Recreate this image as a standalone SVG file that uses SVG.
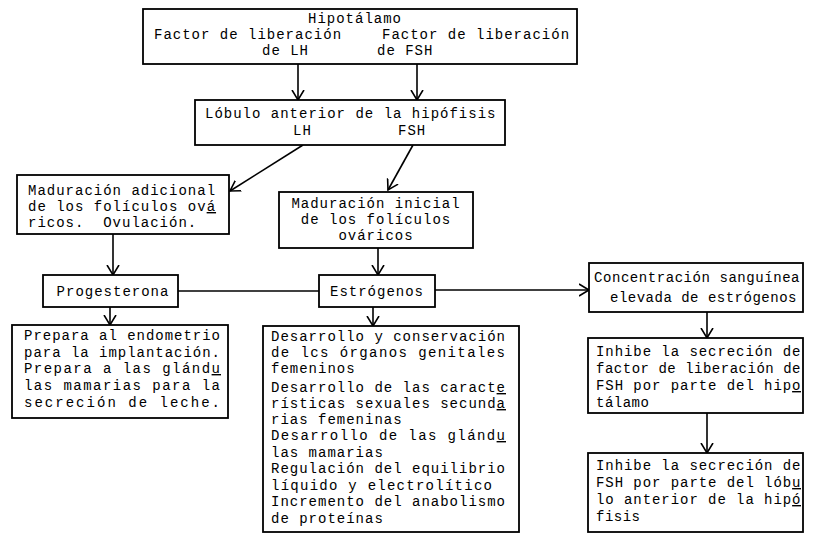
<svg xmlns="http://www.w3.org/2000/svg" width="818" height="535" viewBox="0 0 818 535">
<defs>
<marker id="ah" markerUnits="userSpaceOnUse" markerWidth="14" markerHeight="14" refX="10" refY="6" orient="auto" viewBox="0 0 14 12">
<path d="M0,0 L10,6 L0,12" fill="none" stroke="#000" stroke-width="1.6"/>
</marker>
<style>
rect{fill:#fff;stroke:#000;stroke-width:1.8}
text{font-family:"Liberation Mono","DejaVu Sans Mono",monospace;font-size:14px;letter-spacing:1px;fill:#000}
.r{letter-spacing:0.5px}
.m{text-anchor:middle}
.u{text-decoration:underline}
#connectors line{stroke:#000;stroke-width:1.6;fill:none}
</style>
</defs>
<rect x="0" y="0" width="818" height="535" style="fill:#fff;stroke:none"/>
<g id="connectors">
<line x1="298" y1="64" x2="298" y2="100" marker-end="url(#ah)"/>
<line x1="417" y1="64" x2="417" y2="100" marker-end="url(#ah)"/>
<line x1="303" y1="145" x2="230" y2="191" marker-end="url(#ah)"/>
<line x1="413" y1="145" x2="388" y2="190" marker-end="url(#ah)"/>
<line x1="113" y1="234" x2="113" y2="275" marker-end="url(#ah)"/>
<line x1="378" y1="248" x2="378" y2="275" marker-end="url(#ah)"/>
<line x1="178" y1="291" x2="319" y2="291"/>
<line x1="435" y1="290" x2="589" y2="290" marker-end="url(#ah)"/>
<line x1="110" y1="307" x2="110" y2="325" marker-end="url(#ah)"/>
<line x1="373" y1="307" x2="373" y2="326" marker-end="url(#ah)"/>
<line x1="707" y1="312" x2="707" y2="338" marker-end="url(#ah)"/>
<line x1="707" y1="413" x2="707" y2="453" marker-end="url(#ah)"/>
</g>
<g id="hipotalamo">
<rect x="143" y="9" width="434" height="55"/>
<text x="355" y="23" class="m">Hipotálamo</text>
<text x="154" y="39">Factor de liberación</text>
<text x="382" y="39">Factor de liberación</text>
<text x="262" y="55">de LH</text>
<text x="377" y="55">de FSH</text>
</g>
<g id="lobulo">
<rect x="195" y="100" width="310" height="45"/>
<text x="205" y="118">Lóbulo anterior de la hipófisis</text>
<text x="293" y="135">LH</text>
<text x="398" y="135">FSH</text>
</g>
<g id="maduracion-adicional">
<rect x="17" y="175" width="212" height="59"/>
<text x="28" y="195">Maduración adicional</text>
<text x="28" y="211">de los folículos ov<tspan class="u">á</tspan></text>
<text x="28" y="227" xml:space="preserve">ricos.  Ovulación.</text>
</g>
<g id="maduracion-inicial">
<rect x="279" y="192" width="194" height="56"/>
<text x="376" y="208" class="m">Maduración inicial</text>
<text x="376" y="224" class="m">de los folículos</text>
<text x="376" y="240" class="m">ováricos</text>
</g>
<g id="progesterona">
<rect x="43" y="275" width="135" height="32"/>
<text x="113" y="296" class="m">Progesterona</text>
</g>
<g id="estrogenos">
<rect x="319" y="275" width="116" height="32"/>
<text x="377" y="296" class="m">Estrógenos</text>
</g>
<g id="concentracion">
<rect x="589" y="263" width="214" height="49"/>
<text x="594" y="282" class="r" textLength="206" lengthAdjust="spacing">Concentración sanguínea</text>
<text x="610" y="302" class="r">elevada de estrógenos</text>
</g>
<g id="prepara">
<rect x="12" y="325" width="216" height="93"/>
<text x="24" y="340" textLength="197" lengthAdjust="spacing">Prepara al endometrio</text>
<text x="24" y="357" textLength="197" lengthAdjust="spacing">para la implantación.</text>
<text x="24" y="373" textLength="197" lengthAdjust="spacing">Prepara a las glánd<tspan class="u">u</tspan></text>
<text x="24" y="390" textLength="197" lengthAdjust="spacing">las mamarias para la</text>
<text x="24" y="407" textLength="197" lengthAdjust="spacing">secreción de leche.</text>
</g>
<g id="efectos-estrogenos">
<rect x="263" y="326" width="256" height="206"/>
<text x="271" y="341" textLength="235" lengthAdjust="spacing">Desarrollo y conservación</text>
<text x="271" y="357" textLength="235" lengthAdjust="spacing">de lcs órganos genitales</text>
<text x="271" y="373">femeninos</text>
<text x="271" y="392" textLength="235" lengthAdjust="spacing">Desarrollo de las caract<tspan class="u">e</tspan></text>
<text x="271" y="408" textLength="235" lengthAdjust="spacing">rísticas sexuales secund<tspan class="u">a</tspan></text>
<text x="271" y="424">rias femeninas</text>
<text x="271" y="440" textLength="235" lengthAdjust="spacing">Desarrollo de las glánd<tspan class="u">u</tspan></text>
<text x="271" y="457">las mamarias</text>
<text x="271" y="473" textLength="235" lengthAdjust="spacing">Regulación del equilibrio</text>
<text x="271" y="490" textLength="222" lengthAdjust="spacing">líquido y electrolítico</text>
<text x="271" y="506" textLength="235" lengthAdjust="spacing">Incremento del anabolismo</text>
<text x="271" y="523">de proteínas</text>
</g>
<g id="inhibe-hipotalamo">
<rect x="588" y="338" width="215" height="75"/>
<text x="596" y="356" class="r" textLength="205" lengthAdjust="spacing">Inhibe la secreción de</text>
<text x="596" y="373" class="r" textLength="205" lengthAdjust="spacing">factor de liberación de</text>
<text x="596" y="390" class="r" textLength="205" lengthAdjust="spacing">FSH por parte del hip<tspan class="u">o</tspan></text>
<text x="596" y="407" class="r">tálamo</text>
</g>
<g id="inhibe-hipofisis">
<rect x="588" y="453" width="215" height="79"/>
<text x="596" y="470" class="r" textLength="205" lengthAdjust="spacing">Inhibe la secreción de</text>
<text x="596" y="487" class="r" textLength="205" lengthAdjust="spacing">FSH por parte del lób<tspan class="u">u</tspan></text>
<text x="596" y="504" class="r" textLength="205" lengthAdjust="spacing">lo anterior de la hip<tspan class="u">ó</tspan></text>
<text x="596" y="521" class="r">fisis</text>
</g>
</svg>
